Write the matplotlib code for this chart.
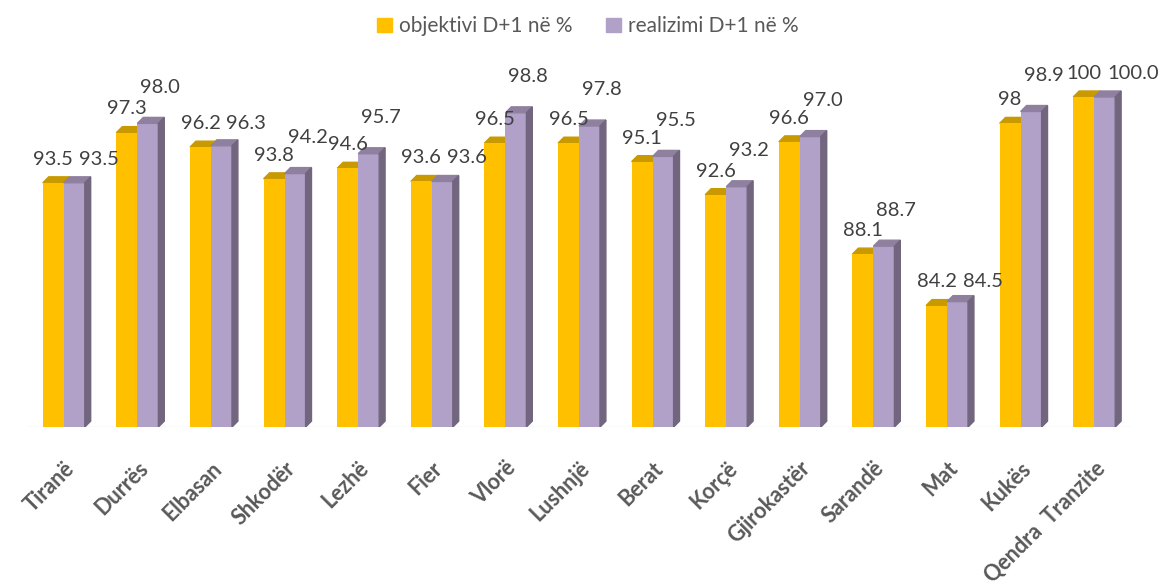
import numpy as np
import matplotlib
matplotlib.use("Agg")
import matplotlib.pyplot as plt
from matplotlib.patches import Polygon, Patch

# te dhenat
qytetet = ["Tiranë", "Durrës", "Elbasan", "Shkodër", "Lezhë", "Fier", "Vlorë",
           "Lushnjë", "Berat", "Korçë", "Gjirokastër", "Sarandë", "Mat", "Kukës",
           "Qendra  Tranzite"]
objektivi = [93.5, 97.3, 96.2, 93.8, 94.6, 93.6, 96.5, 96.5, 95.1, 92.6, 96.6, 88.1, 84.2, 98, 100]
realizimi = [93.5, 98.0, 96.3, 94.2, 95.7, 93.6, 98.8, 97.8, 95.5, 93.2, 97.0, 88.7, 84.5, 98.9, 100.0]
etiketa_obj = ["93.5", "97.3", "96.2", "93.8", "94.6", "93.6", "96.5", "96.5", "95.1", "92.6",
               "96.6", "88.1", "84.2", "98", "100"]
etiketa_real = ["{:.1f}".format(v) for v in realizimi]

plt.rcParams['font.family'] = ['Lato', 'DejaVu Sans']

fig = plt.figure(figsize=(11.64, 5.85), dpi=100)
ax = fig.add_axes([0.0232, 0.270, 0.9485, 0.632])

baza = 75
x = np.arange(len(qytetet))
w = 0.285
# thellesia 3D
dx = 0.08
dy = 0.45

c_obj = "#FFC000"
c_obj_top = "#C89A00"
c_real = "#B1A0C7"
c_real_top = "#8F809F"
c_real_side = "#72667F"

bars1 = ax.bar(x - w / 2, np.array(objektivi) - baza, width=w, bottom=baza,
               color=c_obj, zorder=2)
bars2 = ax.bar(x + w / 2, np.array(realizimi) - baza, width=w, bottom=baza,
               color=c_real, zorder=3)

for b in bars1:
    x0, x1 = b.get_x(), b.get_x() + b.get_width()
    top = b.get_y() + b.get_height()
    ax.add_patch(Polygon([(x0, top), (x1, top), (x1 + dx, top + dy), (x0 + dx, top + dy)],
                         closed=True, color=c_obj_top, zorder=1.5))

for b in bars2:
    x0, x1 = b.get_x(), b.get_x() + b.get_width()
    top = b.get_y() + b.get_height()
    bot = b.get_y()
    ax.add_patch(Polygon([(x0, top), (x1, top), (x1 + dx, top + dy), (x0 + dx, top + dy)],
                         closed=True, color=c_real_top, zorder=3.5))
    ax.add_patch(Polygon([(x1, bot), (x1 + dx, bot + dy), (x1 + dx, top + dy), (x1, top)],
                         closed=True, color=c_real_side, zorder=3.5))

# etiketat e vlerave
lab1 = []
for b, t in zip(bars1, etiketa_obj):
    top = b.get_y() + b.get_height()
    lab1.append(ax.annotate(t, (b.get_x() + b.get_width() / 2, top), xytext=(0, 17),
                            textcoords="offset points", ha="center", va="center",
                            fontsize=14.5, color="#404040", zorder=5, annotation_clip=False))
lab2 = []
for b, t in zip(bars2, etiketa_real):
    top = b.get_y() + b.get_height()
    lab2.append(ax.annotate(t, (b.get_x() + b.get_width() / 2, top), xytext=(9, 26),
                            textcoords="offset points", ha="center", va="center",
                            fontsize=14.5, color="#404040", zorder=5, annotation_clip=False))

ax.set_xlim(-0.5, len(qytetet) - 0.5)
ax.set_ylim(baza, 103)
ax.set_yticks([])
ax.set_xticks(x)
ax.set_xticklabels(qytetet, rotation=45, ha="right", rotation_mode="anchor",
                   fontsize=15.5, fontweight="bold", color="#595959")
ax.tick_params(axis="x", length=0, pad=22)
for s in ax.spines.values():
    s.set_visible(False)
ax.axhline(baza, color="#E6E6E6", lw=1, zorder=1)

# nese etiketat mbivendosen, vendos te dyten ne te njejten lartesi, djathtas
fig.canvas.draw()
r = fig.canvas.get_renderer()
for a, b in zip(lab1, lab2):
    e1 = a.get_window_extent(r)
    e2 = b.get_window_extent(r)
    if e1.overlaps(e2):
        gap = 6
        sx = (e1.width / 2 + gap + e2.width / 2) * 72 / fig.dpi
        b.xy = a.xy
        b.xyann = (a.xyann[0] + sx, a.xyann[1])

handles = [Patch(color=c_obj, label="objektivi D+1 në %"),
           Patch(color=c_real, label="realizimi D+1 në %")]
leg = fig.legend(handles=handles, loc="center", bbox_to_anchor=(0.505, 0.955), ncol=2,
                 frameon=False, fontsize=15, handlelength=0.7, handleheight=0.7,
                 handletextpad=0.35, columnspacing=1.6)
for t in leg.get_texts():
    t.set_color("#595959")

fig.savefig("out.png", dpi=100)
